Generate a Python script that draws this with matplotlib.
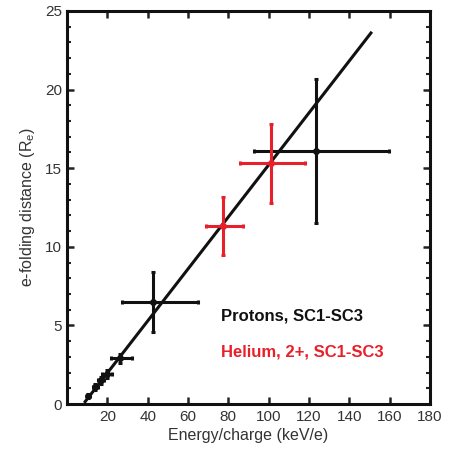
import matplotlib
matplotlib.use("Agg")
import matplotlib.pyplot as plt
from matplotlib.ticker import MultipleLocator

# Protons
p_x = [10.5, 14, 17, 20, 26.5, 42.5, 123.5]
p_y = [0.5, 1.1, 1.5, 1.9, 2.9, 6.5, 16.1]
p_xerr_lo = [0.8, 1.2, 1.5, 2.5, 4.5, 15.0, 30.8]
p_xerr_hi = [0.8, 1.2, 1.5, 2.5, 5.5, 22.6, 36.3]
p_yerr = [0.15, 0.2, 0.2, 0.25, 0.3, 1.9, 4.6]

# Helium 2+
h_x = [77.3, 101.0]
h_y = [11.3, 15.3]
h_xerr_lo = [8.4, 15.2]
h_xerr_hi = [10.0, 17.2]
h_yerr = [1.85, 2.5]

# Fit line end points
fit_x = [9.0, 150.7]
fit_y = [0.15, 23.6]

xticks = [20, 40, 60, 80, 100, 120, 140, 160, 180]
yticks = [0, 5, 10, 15, 20, 25]

red = "#e8202a"
black = "#111111"

plt.rcParams['font.family'] = ['Liberation Sans', 'DejaVu Sans']

fig = plt.figure(figsize=(4.6, 4.57), dpi=100)
ax = fig.add_axes([67/460, 53/457, 363/460, 393/457])

ax.plot(fit_x, fit_y, color=black, lw=2.2, zorder=3)
ax.errorbar(p_x, p_y, xerr=[p_xerr_lo, p_xerr_hi], yerr=p_yerr, fmt='o',
            color=black, ms=4, elinewidth=2.2, capsize=1.5, capthick=2.2, zorder=4)
ax.errorbar(h_x, h_y, xerr=[h_xerr_lo, h_xerr_hi], yerr=h_yerr, fmt='o',
            color=red, ms=4, elinewidth=2.2, capsize=1.5, capthick=2.2, zorder=5)

ax.text(76.5, 5.6, "Protons, SC1-SC3", color=black, fontsize=12,
        fontweight='bold', va='center', ha='left')
ax.text(76.5, 3.3, "Helium, 2+, SC1-SC3", color=red, fontsize=12,
        fontweight='bold', va='center', ha='left')

ax.set_xlim(0, 180)
ax.set_ylim(0, 25)
ax.set_xticks(xticks)
ax.set_yticks(yticks)
ax.yaxis.set_minor_locator(MultipleLocator(1))
ax.tick_params(axis='both', which='both', direction='in', top=True, right=True,
               labelsize=11, colors='#222222', labelcolor='#333333')
ax.tick_params(which='major', length=5, width=1.8)
ax.tick_params(which='minor', length=3, width=1.5)
ax.tick_params(axis='x', pad=4)
for s in ax.spines.values():
    s.set_linewidth(2.2)
    s.set_color('#111111')

ax.set_xlabel("Energy/charge (keV/e)", fontsize=11.5, color='#333333', labelpad=3)
ax.set_ylabel(r"e-folding distance (R$_\mathregular{e}$)", fontsize=11.5,
              color='#333333', labelpad=6)

fig.savefig("out.png", dpi=100)
